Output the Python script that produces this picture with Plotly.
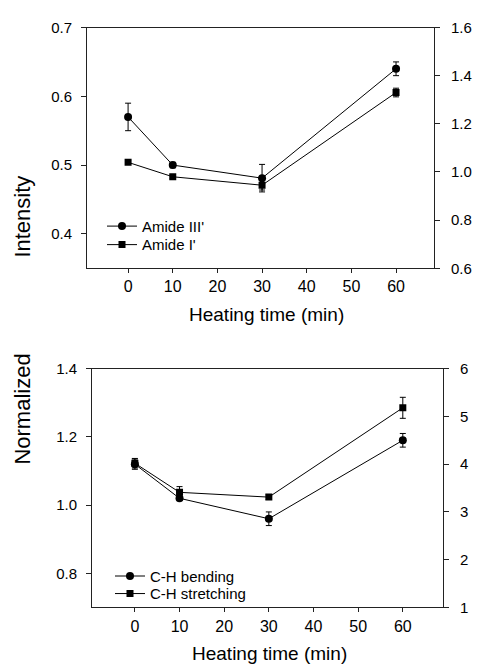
import plotly.graph_objects as go

# ---- data ----
time_min = [0, 10, 30, 60]

amide3 = [0.57, 0.50, 0.481, 0.64]
amide3_err = [0.02, 0.004, 0.02, 0.01]
amide1 = [1.04, 0.98, 0.945, 1.33]
amide1_err = [0.008, 0.008, 0.02, 0.018]

ch_bend = [1.12, 1.02, 0.96, 1.19]
ch_bend_err = [0.015, 0.006, 0.02, 0.02]
ch_stretch = [4.02, 3.41, 3.31, 5.18]
ch_stretch_err = [0.1, 0.12, 0.05, 0.22]

x_ticks = [0, 10, 20, 30, 40, 50, 60]
y1_ticks = [0.4, 0.5, 0.6, 0.7]
y2_ticks = [0.6, 0.8, 1.0, 1.2, 1.4, 1.6]
y3_ticks = [0.8, 1.0, 1.2, 1.4]
y4_ticks = [1, 2, 3, 4, 5, 6]

FONT = "Liberation Sans, Arial, sans-serif"
W, H = 479, 671
LC = "#222222"


def px(x):
    return x / W


def py(y):
    return 1 - y / H


def err(vals):
    return dict(type="data", array=vals, visible=True, color="black", thickness=1, width=3)


fig = go.Figure()
line = dict(color="black", width=1)

fig.add_trace(go.Scatter(x=time_min, y=amide3, name="Amide III'", mode="lines+markers",
                         line=line, marker=dict(symbol="circle", size=8, color="black"),
                         error_y=err(amide3_err), xaxis="x", yaxis="y", legend="legend"))
fig.add_trace(go.Scatter(x=time_min, y=amide1, name="Amide I'", mode="lines+markers",
                         line=line, marker=dict(symbol="square", size=7, color="black"),
                         error_y=err(amide1_err), xaxis="x", yaxis="y2", legend="legend2"))
fig.add_trace(go.Scatter(x=time_min, y=ch_bend, name="C-H bending", mode="lines+markers",
                         line=line, marker=dict(symbol="circle", size=8, color="black"),
                         error_y=err(ch_bend_err), xaxis="x2", yaxis="y3", legend="legend3"))
fig.add_trace(go.Scatter(x=time_min, y=ch_stretch, name="C-H stretching", mode="lines+markers",
                         line=line, marker=dict(symbol="square", size=7, color="black"),
                         error_y=err(ch_stretch_err), xaxis="x2", yaxis="y4", legend="legend4"))

axis_common = dict(showline=True, linecolor=LC, linewidth=1, ticks="outside", tickcolor=LC,
                   ticklen=5, tickwidth=1, showgrid=False, zeroline=False,
                   tickfont=dict(family=FONT, size=15, color="black"))
x_common = {**axis_common, "tickfont": dict(family=FONT, size=16, color="black"), "ticklen": 4}


def leg(xp, yp):
    return dict(x=px(xp), y=py(yp), xanchor="left", yanchor="middle", bgcolor="rgba(0,0,0,0)",
                font=dict(family=FONT, size=15, color="black"), itemwidth=30)


fig.update_layout(
    width=W, height=H,
    margin=dict(l=0, r=0, t=0, b=0),
    paper_bgcolor="white", plot_bgcolor="white",
    font=dict(family=FONT, color="black"),
    showlegend=True,
    xaxis=dict(domain=[px(87), px(434)], range=[-9.2, 68.5], tickvals=x_ticks, anchor="y",
               mirror=True, **x_common),
    yaxis=dict(domain=[py(266), py(19)], range=[0.35, 0.7], tickvals=y1_ticks, tickformat=".1f",
               anchor="x", ticklabelstandoff=6, **axis_common),
    yaxis2=dict(range=[0.6, 1.6], tickvals=y2_ticks, tickformat=".1f", overlaying="y", side="right",
                anchor="x", ticklabelstandoff=8, **axis_common),
    xaxis2=dict(domain=[px(92), px(443)], range=[-9.6, 69.0], tickvals=x_ticks, anchor="y3",
                mirror=True, **x_common),
    yaxis3=dict(domain=[py(614), py(369)], range=[0.7, 1.4], tickvals=y3_ticks, tickformat=".1f",
                anchor="x2", ticklabelstandoff=6, **axis_common),
    yaxis4=dict(range=[1, 6], tickvals=y4_ticks, overlaying="y3", side="right",
                anchor="x2", ticklabelstandoff=8, **axis_common),
    legend=leg(102, 223),
    legend2=leg(102, 242),
    legend3=leg(110, 582),
    legend4=leg(110, 600),
)

annotations = [
    dict(text="Heating time (min)", x=px(266), y=py(313), font=dict(size=19)),
    dict(text="Heating time (min)", x=px(269), y=py(661), font=dict(size=19)),
    dict(text="Intensity", x=px(23), y=py(213), textangle=-90, font=dict(size=22)),
    dict(text="Normalized", x=px(23), y=py(411), textangle=-90, font=dict(size=22)),
]
for a in annotations:
    fig.add_annotation(xref="paper", yref="paper", xanchor="center", yanchor="middle",
                       showarrow=False, text=a["text"], x=a["x"], y=a["y"],
                       textangle=a.get("textangle", 0),
                       font=dict(family=FONT, color="black", size=a["font"]["size"]))

fig.write_html("out.html")
